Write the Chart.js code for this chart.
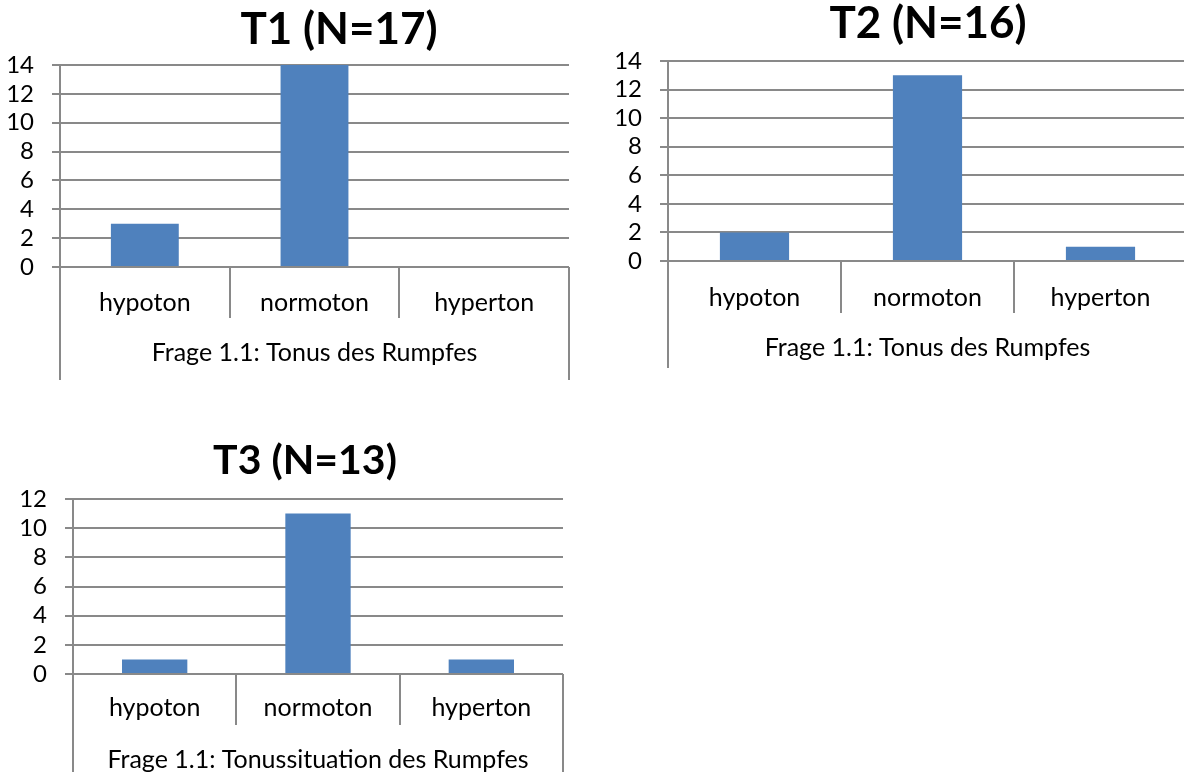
<!DOCTYPE html>
<html>
<head>
<meta charset="utf-8">
<script src="https://cdn.jsdelivr.net/npm/chart.js@4"></script>
<style>
  html, body { margin: 0; padding: 0; background: #fff; overflow: hidden; width: 1184px; height: 772px; }
  .box { position: absolute; }
</style>
</head>
<body>
<div class="box" id="b1" style="left:0px;top:0px;width:678px;height:380px;"><canvas id="c1"></canvas></div>
<div class="box" id="b2" style="left:590px;top:0px;width:676px;height:368px;"><canvas id="c2"></canvas></div>
<div class="box" id="b3" style="left:0px;top:420px;width:610px;height:380px;"><canvas id="c3"></canvas></div>
<script>
// ---- data ----
const categories = ['hypoton', 'normoton', 'hyperton'];
const t1Values = [3, 14, 0];
const t2Values = [2, 13, 1];
const t3Values = [1, 11, 1];
const chartTitles = ['T1 (N=17)', 'T2 (N=16)', 'T3 (N=13)'];
const groupLabels = ['Frage 1.1: Tonus des Rumpfes', 'Frage 1.1: Tonus des Rumpfes', 'Frage 1.1: Tonussituation des Rumpfes'];
const yMaxValues = [14, 14, 12];
const yStep = 2;

// ---- style ----
const FONT = 'Lato, "Open Sans", sans-serif';
const LINE = '#898989';
const BAR = '#4F81BD';
Chart.defaults.color = '#000';
Chart.defaults.font.family = FONT;

const multiLevel = {
  id: 'multiLevel',
  afterDraw(chart, args, opts) {
    const ctx = chart.ctx;
    const x = chart.scales.x;
    const a = chart.chartArea;
    const n = chart.data.labels.length;
    const w = (a.right - a.left) / n;
    ctx.save();
    ctx.strokeStyle = LINE;
    ctx.lineWidth = 2;
    ctx.beginPath();
    for (let i = 1; i < n; i++) {
      const px = Math.round(a.left + i * w);
      ctx.moveTo(px, a.bottom);
      ctx.lineTo(px, a.bottom + opts.divLen);
    }
    ctx.moveTo(a.left, a.bottom);
    ctx.lineTo(a.left, x.bottom);
    ctx.moveTo(a.right, a.bottom);
    ctx.lineTo(a.right, x.bottom);
    ctx.stroke();
    ctx.restore();
  }
};

function makeChart(id, values, idx, cfg) {
  return new Chart(document.getElementById(id), {
    type: 'bar',
    data: {
      labels: categories,
      datasets: [{ data: values, backgroundColor: BAR, barPercentage: 0.4, categoryPercentage: 1 }]
    },
    plugins: [multiLevel],
    options: {
      responsive: true,
      maintainAspectRatio: false,
      animation: false,
      layout: { padding: 0 },
      plugins: {
        legend: { display: false },
        tooltip: { enabled: false },
        title: {
          display: true,
          text: chartTitles[idx],
          color: '#000',
          font: { family: FONT, size: cfg.titleSize, weight: 'bold', lineHeight: 1.0 },
          padding: { top: cfg.titleTop, bottom: cfg.titleBottom }
        },
        multiLevel: { divLen: cfg.divLen }
      },
      scales: {
        x: {
          grid: { display: false, drawTicks: false },
          border: { display: false },
          ticks: { padding: cfg.tickPad, font: { size: 25 }, color: '#000' },
          title: {
            display: true,
            text: groupLabels[idx],
            color: '#000',
            font: { size: 25, lineHeight: 1.2 },
            padding: { top: 0, bottom: cfg.groupPad }
          },
          afterFit: s => { s.height = cfg.xHeight; }
        },
        y: {
          min: 0,
          max: yMaxValues[idx],
          ticks: { stepSize: yStep, autoSkip: false, padding: 18, font: { size: 24 }, color: '#000' },
          grid: { color: LINE, lineWidth: 2, tickLength: 8, drawTicks: true },
          border: { display: true, color: LINE, width: 2 },
          afterFit: s => { s.width = cfg.yWidth; }
        },
        spacer: {
          type: 'linear',
          position: 'right',
          display: true,
          ticks: { display: false },
          grid: { display: false, drawTicks: false },
          border: { display: false },
          afterFit: s => { s.width = cfg.padRight; }
        }
      }
    }
  });
}

makeChart('c1', t1Values, 0, { padRight: 109, titleSize: 44, titleTop: 8, titleBottom: 13, divLen: 51, tickPad: 21, groupPad: 12, xHeight: 113, yWidth: 60 });
makeChart('c2', t2Values, 1, { padRight: 79, titleSize: 44, titleTop: 2, titleBottom: 15, divLen: 52, tickPad: 22, groupPad: 5, xHeight: 107, yWidth: 78 });
makeChart('c3', t3Values, 2, { padRight: 47, titleSize: 41, titleTop: 20, titleBottom: 18, divLen: 51, tickPad: 19, groupPad: 25, xHeight: 126, yWidth: 73 });
</script>
</body>
</html>
